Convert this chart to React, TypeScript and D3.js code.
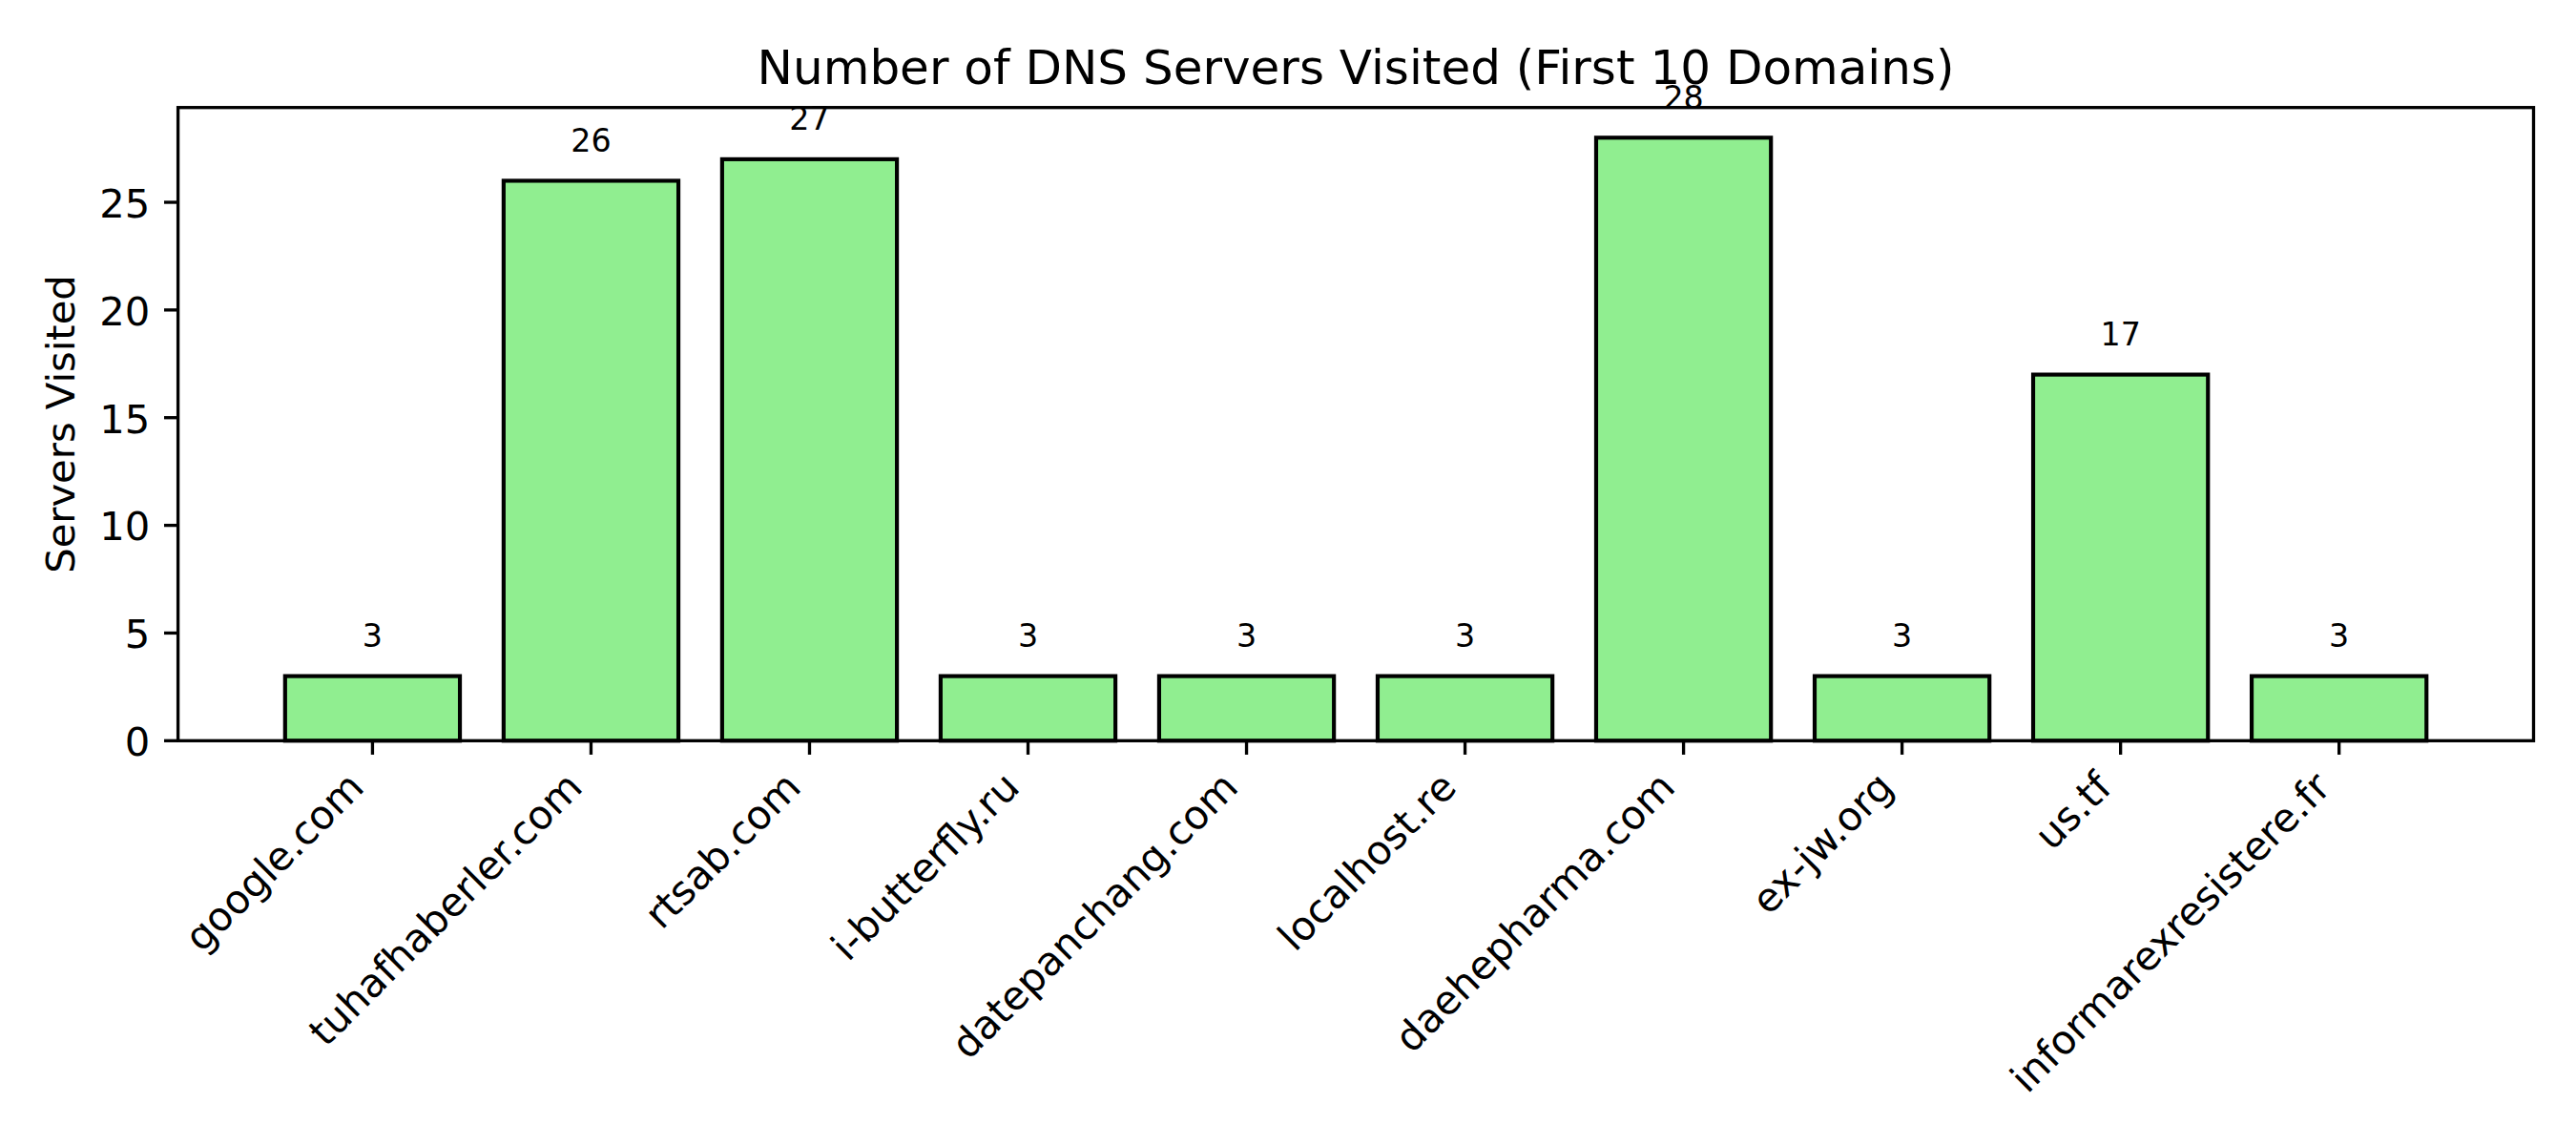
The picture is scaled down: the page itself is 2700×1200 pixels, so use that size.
import * as d3 from "d3";
import { useEffect, useRef } from "react";

const domains = [
  "google.com",
  "tuhafhaberler.com",
  "rtsab.com",
  "i-butterfly.ru",
  "datepanchang.com",
  "localhost.re",
  "daehepharma.com",
  "ex-jw.org",
  "us.tf",
  "informarexresistere.fr",
];
const servers = [3, 26, 27, 3, 3, 3, 28, 3, 17, 3];
const yTicks = [0, 5, 10, 15, 20, 25];

const W = 2700;
const H = 1200;
const FONT = "'DejaVu Sans', sans-serif";

export default function App() {
  const ref = useRef<SVGSVGElement>(null);

  useEffect(() => {
    const svg = d3.select(ref.current);
    svg.selectAll("*").remove();

    const left = 186.6;
    const right = 2655.5;
    const top = 112.7;
    const bottom = 776.3;

    const x = d3
      .scaleBand<string>()
      .domain(domains)
      .range([left, right])
      .paddingInner(0.2)
      .paddingOuter(0.49);

    const yMax = (d3.max(servers) ?? 0) * 1.05;
    const y = d3.scaleLinear().domain([0, yMax]).range([bottom, top]);

    svg.append("rect").attr("width", W).attr("height", H).attr("fill", "#fff");

    // bars
    svg
      .append("g")
      .selectAll("rect")
      .data(servers)
      .join("rect")
      .attr("x", (_, i) => x(domains[i])!)
      .attr("width", x.bandwidth())
      .attr("y", (d) => y(d))
      .attr("height", (d) => y(0) - y(d))
      .attr("fill", "#90ee90")
      .attr("stroke", "#000")
      .attr("stroke-width", 4.17);

    // frame
    svg
      .append("rect")
      .attr("x", left)
      .attr("y", top)
      .attr("width", right - left)
      .attr("height", bottom - top)
      .attr("fill", "none")
      .attr("stroke", "#000")
      .attr("stroke-width", 3.33);

    // y ticks
    const yg = svg.append("g");
    yTicks.forEach((t) => {
      yg.append("line")
        .attr("x1", left - 14.6)
        .attr("x2", left)
        .attr("y1", y(t))
        .attr("y2", y(t))
        .attr("stroke", "#000")
        .attr("stroke-width", 3.33);
      yg.append("text")
        .attr("x", left - 29.2)
        .attr("y", y(t))
        .attr("dy", "0.38em")
        .attr("text-anchor", "end")
        .attr("font-family", FONT)
        .attr("font-size", 41.7)
        .text(t);
    });

    // x ticks
    const xg = svg.append("g");
    domains.forEach((dm) => {
      const cx = x(dm)! + x.bandwidth() / 2;
      xg.append("line")
        .attr("x1", cx)
        .attr("x2", cx)
        .attr("y1", bottom)
        .attr("y2", bottom + 14.6)
        .attr("stroke", "#000")
        .attr("stroke-width", 3.33);
      xg.append("text")
        .attr("transform", `translate(${cx - 6.9},${bottom + 51.1}) rotate(-45)`)
        .attr("text-anchor", "end")
        .attr("font-family", FONT)
        .attr("font-size", 41.7)
        .text(dm);
    });

    // value labels
    svg
      .append("g")
      .selectAll("text")
      .data(servers)
      .join("text")
      .attr("x", (_, i) => x(domains[i])! + x.bandwidth() / 2)
      .attr("y", (d) => y(d + 1) - 7.9)
      .attr("text-anchor", "middle")
      .attr("font-family", FONT)
      .attr("font-size", 33.3)
      .text((d) => d);

    svg
      .append("text")
      .attr("x", (left + right) / 2)
      .attr("y", top - 24.8)
      .attr("text-anchor", "middle")
      .attr("font-family", FONT)
      .attr("font-size", 50)
      .text("Number of DNS Servers Visited (First 10 Domains)");

    svg
      .append("text")
      .attr("transform", `translate(78,${(top + bottom) / 2}) rotate(-90)`)
      .attr("text-anchor", "middle")
      .attr("font-family", FONT)
      .attr("font-size", 41.7)
      .text("Servers Visited");
  }, []);

  return (
    <svg
      ref={ref}
      width={W}
      height={H}
      style={{ position: "absolute", left: 0, top: 0, display: "block" }}
    />
  );
}
